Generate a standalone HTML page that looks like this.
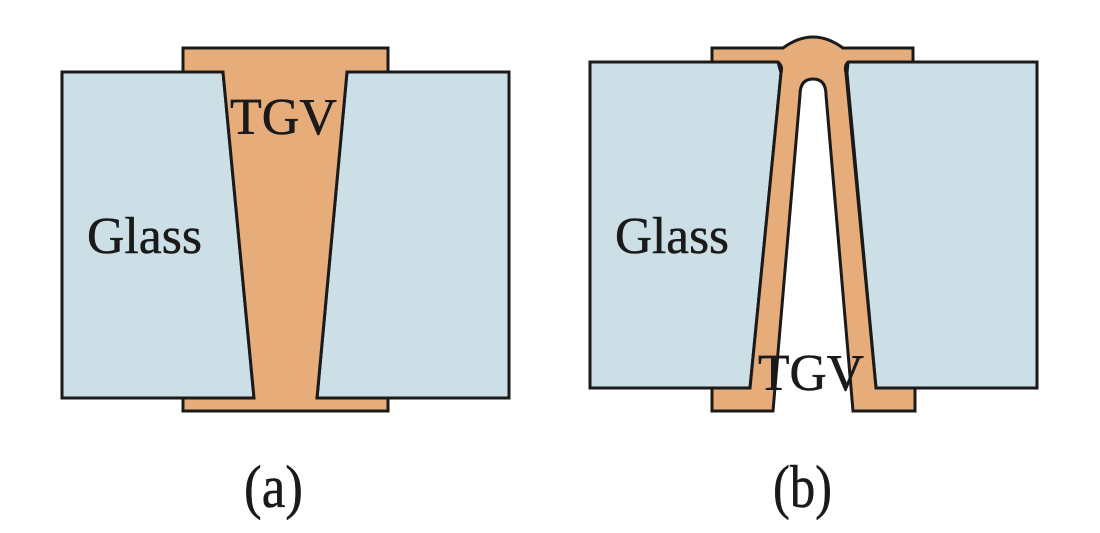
<!DOCTYPE html>
<html>
<head>
<meta charset="utf-8">
<style>
html,body{margin:0;padding:0;background:#fff;}
svg{display:block;}
text{font-family:"Liberation Serif","DejaVu Serif",serif;fill:#1a1a1a;stroke:#1a1a1a;stroke-width:0.5;}
</style>
</head>
<body>
<svg width="1100" height="533" viewBox="0 0 1100 533" xmlns="http://www.w3.org/2000/svg">
  <rect width="1100" height="533" fill="#fff"/>
  <g stroke="#1a1a1a" stroke-width="3" stroke-linejoin="miter">
    <!-- (a) -->
    <polygon points="62,72 223,72 254,398 62,398" fill="#cddfe6"/>
    <polygon points="347,72 509,72 509,398 317,398" fill="#cddfe6"/>
    <polygon points="183,48 388,48 388,72 347,72 317,398 388,398 388,411 183,411 183,398 254,398 223,72 183,72" fill="#e6ad7b"/>

    <!-- (b) -->
    <polygon points="590,62 778,62 781,73 750,388 590,388" fill="#cddfe6"/>
    <polygon points="848,62 1037,62 1037,388 876,388 847,73" fill="#cddfe6"/>
    <path d="M712,48 L783,48 Q813,26 843,48 L913,48 L913,62 L848,62 Q844,66 846,73 L876,388 L915,388 L915,411 L853,411 L826,95 Q826,79 813,79 Q800,79 800,95 L773,411 L712,411 L712,388 L750,388 L781,73 Q783,66 778,62 L712,62 Z" fill="#e6ad7b"/>
  </g>

  <text x="230" y="134" font-size="52" textLength="107" lengthAdjust="spacingAndGlyphs">TGV</text>
  <text x="87" y="253" font-size="52" textLength="115" lengthAdjust="spacingAndGlyphs">Glass</text>
  <text x="615" y="253" font-size="52" textLength="114" lengthAdjust="spacingAndGlyphs">Glass</text>
  <text x="758" y="390" font-size="52" textLength="106" lengthAdjust="spacingAndGlyphs">TGV</text>

  <text x="244" y="507" font-size="60" textLength="59" lengthAdjust="spacingAndGlyphs">(a)</text>
  <text x="773" y="507" font-size="60" textLength="59" lengthAdjust="spacingAndGlyphs">(b)</text>
</svg>
</body>
</html>
